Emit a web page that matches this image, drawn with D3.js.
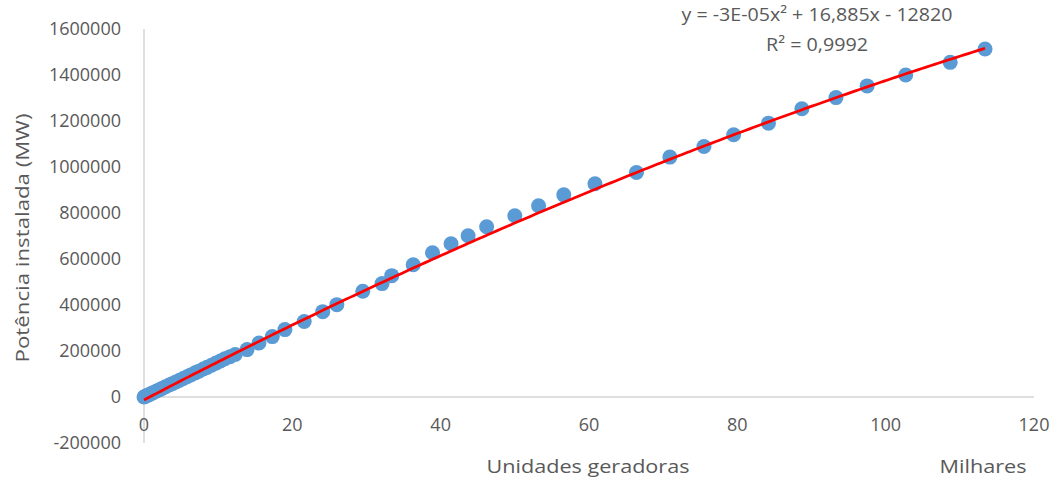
<!DOCTYPE html>
<html>
<head>
<meta charset="utf-8">
<script src="https://cdn.jsdelivr.net/npm/d3@7"></script>
<style>
  html, body { margin: 0; padding: 0; background: #fff; }
  svg text { font-family: "Open Sans", "Noto Sans", sans-serif; fill: #595959; }
</style>
</head>
<body>
<svg id="chart" width="1055" height="479"></svg>
<script>
// ---- data (x in units, y in MW) ----
const unitsX = [0, 150, 400, 700, 1000, 1300, 1700, 2100, 2500, 2900, 3400, 3800, 4300, 4800,
  5300, 5800, 6300, 6900, 7400, 8000, 8500, 9100, 9700, 10300, 10900, 11600,
  12300, 13900, 15500, 17300, 19000, 21600, 24100, 26000, 29500, 32100, 33400, 36300, 38900,
  41400, 43700, 46200, 50000, 53200, 56600, 60800, 66400, 70900, 75500, 79500, 84200, 88700,
  93300, 97500, 102700, 108700, 113400];
const powerMW = [0, 2500, 6000, 10500, 15500, 20000, 26000, 32000, 38500, 44500, 52000, 58000,
  65500, 73000, 80500, 88000, 96000, 105000, 112500, 121500, 129000, 138000, 147500, 156500,
  166000, 175500,
  184500, 206000, 234500, 262700, 293000, 328000, 371000, 401600,
  460000, 493000, 527500, 575000, 627000, 666500, 701000, 740000, 788000, 831500, 879000,
  927000, 976000, 1043000, 1089000, 1140000, 1190600, 1253000, 1301700, 1352500, 1400000,
  1455000, 1513000];

const xTicks = [0, 20000, 40000, 60000, 80000, 100000, 120000];
const yTicks = [-200000, 0, 200000, 400000, 600000, 800000, 1000000, 1200000, 1400000, 1600000];

// trendline: y = a x^2 + b x + c
const trendCoeffs = [-3e-5, 16.885, -12820];
const trendLabel = ["y = -3E-05x² + 16,885x - 12820", "R² = 0,9992"];

const xTitle = "Unidades geradoras";
const xUnitLabel = "Milhares";
const yTitle = "Potência instalada (MW)";

// ---- layout ----
const svg = d3.select("#chart");
const x = d3.scaleLinear().domain([0, 120000]).range([144, 1034]);
const y = d3.scaleLinear().domain([-200000, 1600000]).range([443, 29]);

const axisColor = "#d4d4d4";

// axis lines
svg.append("line")
  .attr("x1", x(0)).attr("x2", x(120000))
  .attr("y1", y(0)).attr("y2", y(0))
  .attr("stroke", axisColor).attr("stroke-width", 1.5);
svg.append("line")
  .attr("x1", x(0)).attr("x2", x(0))
  .attr("y1", y(1600000)).attr("y2", y(-200000))
  .attr("stroke", axisColor).attr("stroke-width", 1.5);

// y tick labels
svg.append("g").selectAll("text").data(yTicks).join("text")
  .attr("x", 121).attr("y", d => y(d)).attr("dy", "0.36em")
  .attr("text-anchor", "end").attr("font-size", 18)
  .text(d => String(d));

// x tick labels
svg.append("g").selectAll("text").data(xTicks).join("text")
  .attr("x", d => x(d)).attr("y", 425).attr("dy", "0.36em")
  .attr("text-anchor", "middle").attr("font-size", 18)
  .text(d => String(d / 1000));

// axis titles (stretched to the reference widths)
function stretched(sel, len) {
  return sel.attr("textLength", len).attr("lengthAdjust", "spacingAndGlyphs");
}
stretched(svg.append("text").attr("x", 588).attr("y", 466).attr("dy", "0.36em")
  .attr("text-anchor", "middle").attr("font-size", 18.5).text(xTitle), 203);
stretched(svg.append("text").attr("x", 983).attr("y", 466).attr("dy", "0.36em")
  .attr("text-anchor", "middle").attr("font-size", 18.5).text(xUnitLabel), 87);
stretched(svg.append("text")
  .attr("transform", "translate(22,238) rotate(-90)")
  .attr("dy", "0.36em")
  .attr("text-anchor", "middle").attr("font-size", 18.5).text(yTitle), 249);

// points
const pts = unitsX.map((d, i) => ({ x: d, y: powerMW[i] }));
svg.append("g").selectAll("circle").data(pts).join("circle")
  .attr("cx", d => x(d.x)).attr("cy", d => y(d.y)).attr("r", 7.5)
  .attr("fill", "#5b9bd5");

// trendline
const f = v => trendCoeffs[0] * v * v + trendCoeffs[1] * v + trendCoeffs[2];
const xMax = d3.max(unitsX);
const tx = d3.range(0, xMax, xMax / 200).concat([xMax]);
svg.append("path")
  .datum(tx)
  .attr("d", d3.line().x(v => x(v)).y(v => y(f(v))))
  .attr("fill", "none").attr("stroke", "#ff0000").attr("stroke-width", 2.75);

// trendline label
const labelLens = [271, 102];
svg.append("g").selectAll("text").data(trendLabel).join("text")
  .attr("x", 817).attr("y", (d, i) => 15 + i * 30).attr("dy", "0.36em")
  .attr("text-anchor", "middle").attr("font-size", 18)
  .attr("textLength", (d, i) => labelLens[i]).attr("lengthAdjust", "spacingAndGlyphs")
  .text(d => d);
</script>
</body>
</html>
